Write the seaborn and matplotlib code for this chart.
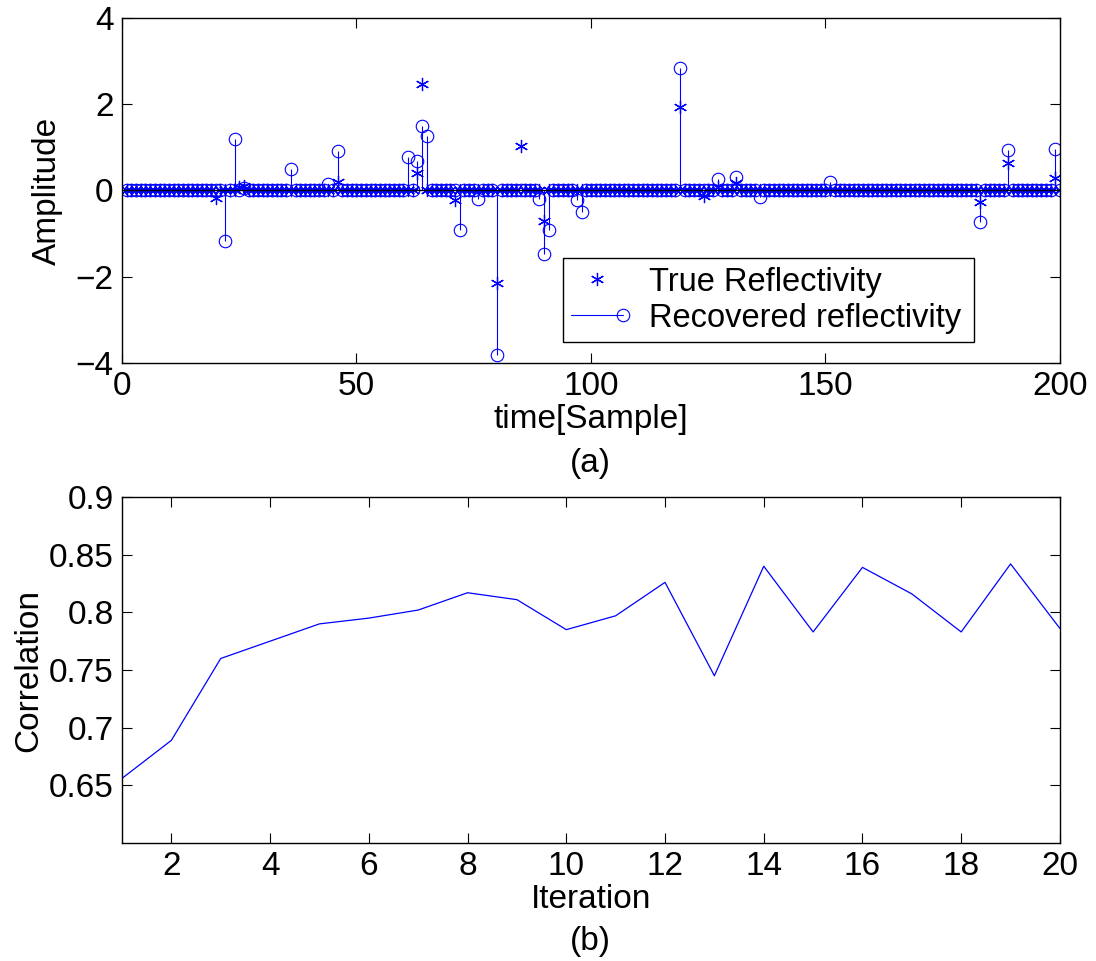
import numpy as np
import pandas as pd
import matplotlib
matplotlib.use("Agg")
import matplotlib.pyplot as plt
from matplotlib.lines import Line2D
import seaborn as sns

# ---------------- data ----------------
n_samples = 200
true_idx = [20, 25, 26, 46, 63, 64, 71, 80, 85, 90, 119, 124, 127, 131, 183, 189, 199]
true_val = [-0.17, 0.07, 0.10, 0.20, 0.41, 2.48, -0.22, -2.14, 1.03, -0.71, 1.94,
            -0.12, 0.08, 0.17, -0.27, 0.63, 0.29]
rec_idx = [22, 24, 26, 36, 44, 46, 61, 63, 64, 65, 72, 76, 80, 89, 90, 91, 97, 98,
           119, 127, 131, 136, 151, 183, 189, 199]
rec_val = [-1.18, 1.19, 0.05, 0.50, 0.15, 0.91, 0.77, 0.69, 1.49, 1.26, -0.91, -0.19,
           -3.81, -0.19, -1.47, -0.91, -0.22, -0.50, 2.85, 0.27, 0.32, -0.14, 0.19,
           -0.73, 0.94, 0.97]

iterations = list(range(1, 21))
correlation = [0.656, 0.689, 0.760, 0.775, 0.790, 0.795, 0.802, 0.817, 0.811, 0.785,
               0.797, 0.826, 0.745, 0.840, 0.783, 0.839, 0.816, 0.783, 0.842, 0.786]

top_xticks = [0, 50, 100, 150, 200]
top_yticks = [-4, -2, 0, 2, 4]
bot_xticks = [2, 4, 6, 8, 10, 12, 14, 16, 18, 20]
bot_yticks = [0.65, 0.7, 0.75, 0.8, 0.85, 0.9]
bot_yticklabels = ["0.65", "0.7", "0.75", "0.8", "0.85", "0.9"]
legend_labels = ["True Reflectivity", "Recovered reflectivity"]

samples = np.arange(1, n_samples + 1)
true_ref = np.zeros(n_samples)
true_ref[np.array(true_idx) - 1] = true_val
rec_ref = np.zeros(n_samples)
rec_ref[np.array(rec_idx) - 1] = rec_val
df_top = pd.DataFrame({"sample": samples, "true": true_ref, "rec": rec_ref})
df_bot = pd.DataFrame({"iteration": iterations, "corr": correlation})

# ---------------- style ----------------
sns.set_theme(style="ticks")
plt.rcParams["font.family"] = ["Liberation Sans", "DejaVu Sans"]
plt.rcParams["axes.linewidth"] = 1.0
plt.rcParams["axes.edgecolor"] = "black"
plt.rcParams["text.color"] = "black"
plt.rcParams["axes.labelcolor"] = "black"
plt.rcParams["xtick.color"] = "black"
plt.rcParams["ytick.color"] = "black"

FS = 24
blue = "#0000ff"

fig = plt.figure(figsize=(10.96, 9.61), dpi=100)
ax1 = fig.add_axes([0.1113, 0.6223, 0.8558, 0.359])
ax2 = fig.add_axes([0.1113, 0.1228, 0.8558, 0.360])

# ---------------- top panel ----------------
ml, sl, bl = ax1.stem(df_top["sample"], df_top["rec"], linefmt="-", markerfmt="o", basefmt=" ")
plt.setp(sl, color=blue, linewidth=0.8)
plt.setp(ml, color=blue, markerfacecolor="none", markeredgecolor=blue,
         markersize=9, markeredgewidth=0.8)
sns.lineplot(data=df_top, x="sample", y="true", ax=ax1, color=blue, linestyle="",
             marker=(6, 2, 0), markersize=9.5, markeredgewidth=0.9,
             markeredgecolor=blue, legend=False)
ax1.axhline(0, color="black", linewidth=1.0, zorder=4)

ax1.set_xlim(0, 200)
ax1.set_ylim(-4, 4)
ax1.set_xticks(top_xticks)
ax1.set_yticks(top_yticks)
ax1.set_xlabel("time[Sample]", fontsize=FS, labelpad=1)
ax1.set_ylabel("Amplitude", fontsize=FS)
ax1.yaxis.set_label_coords(-0.0629, 0.5)

h_true = Line2D([], [], color=blue, marker=(6, 2, 0), linestyle="none",
                markersize=9.5, markeredgewidth=0.9)
h_rec = Line2D([], [], color=blue, linewidth=0.8, marker="o", markerfacecolor="none",
               markersize=9, markeredgewidth=0.8)
leg = ax1.legend([h_true, h_rec], legend_labels, loc="lower left",
                 bbox_to_anchor=(0.470, 0.0617, 0.438, 0.266), mode="expand",
                 fontsize=23.5, frameon=True, fancybox=False, edgecolor="black",
                 framealpha=1, numpoints=1, handlelength=1.6, handletextpad=0.8,
                 borderpad=0.25, labelspacing=0.15, borderaxespad=0)
leg.get_frame().set_linewidth(1.0)
leg.get_lines()[1].set_markevery([2])

# ---------------- bottom panel ----------------
sns.lineplot(data=df_bot, x="iteration", y="corr", ax=ax2, color=blue, linewidth=0.9)
ax2.set_xlim(1, 20)
ax2.set_ylim(0.6, 0.9)
ax2.set_xticks(bot_xticks)
ax2.set_yticks(bot_yticks)
ax2.set_yticklabels(bot_yticklabels)
ax2.set_xlabel("Iteration", fontsize=FS, labelpad=1)
ax2.set_ylabel("Correlation", fontsize=FS)
ax2.yaxis.set_label_coords(-0.083, 0.5)

for ax in (ax1, ax2):
    ax.tick_params(direction="in", length=7, width=0.8, top=True, right=True,
                   labelsize=FS, colors="black", pad=6)
    for s in ax.spines.values():
        s.set_visible(True)
        s.set_color("black")
        s.set_linewidth(1.0)

fig.text(0.539, 0.518, "(a)", fontsize=FS, ha="center", va="center")
fig.text(0.539, 0.0208, "(b)", fontsize=FS, ha="center", va="center")

fig.savefig("out.png", dpi=100, facecolor="white")
